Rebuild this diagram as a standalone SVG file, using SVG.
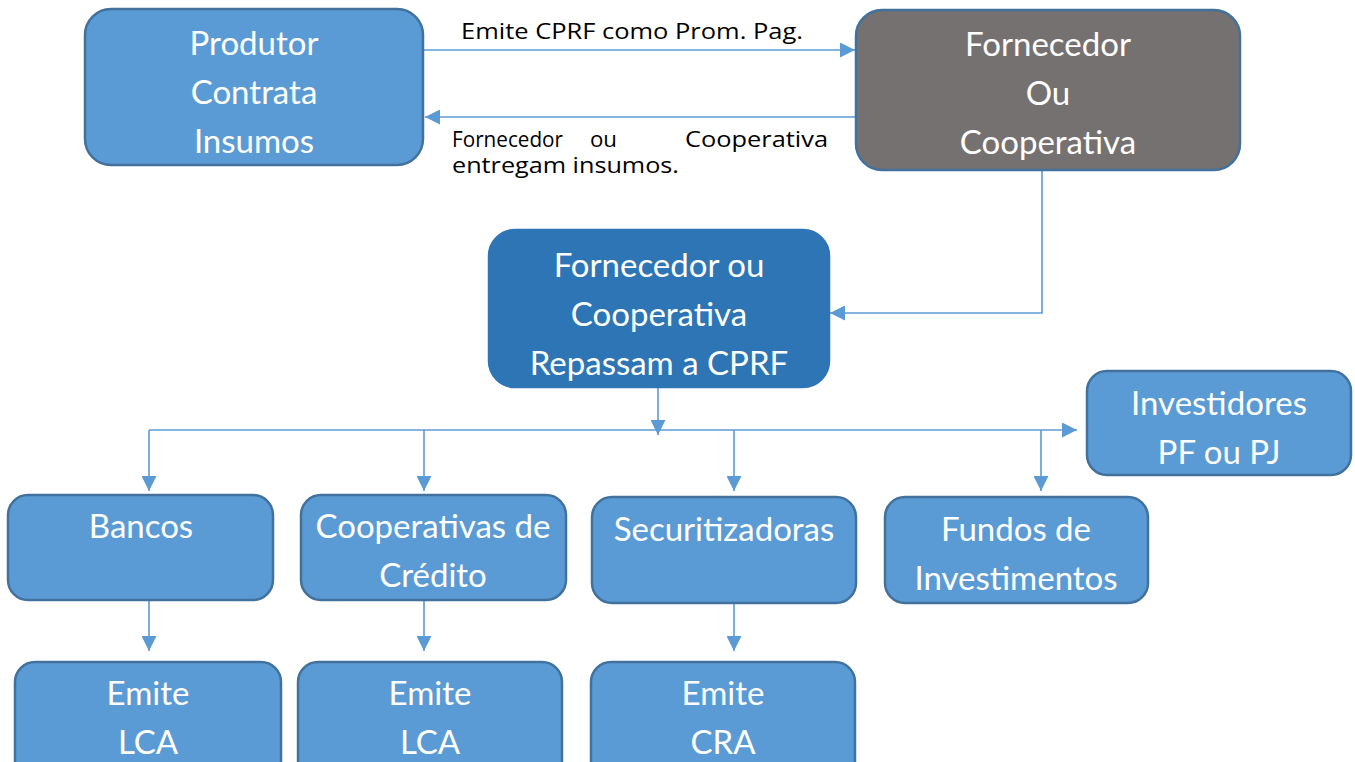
<svg xmlns="http://www.w3.org/2000/svg" width="1355" height="762" viewBox="0 0 1355 762">
<defs>
<marker id="ah" viewBox="0 0 10 10" refX="10" refY="5" markerWidth="15" markerHeight="15" markerUnits="userSpaceOnUse" orient="auto">
<path d="M0,0 L10,5 L0,10 z" fill="#5B9BD5"/>
</marker>
<style>
.n{fill:#5B9BD5;stroke:#41719C;stroke-width:2.5}
.g{fill:#767171;stroke:#41719C;stroke-width:2.5}
.d{fill:#2E75B6;stroke:#2E75B6;stroke-width:2.5}
.t{font-family:Lato,"Open Sans",sans-serif;font-size:33px;fill:#ffffff;text-anchor:middle}
.l{font-family:"Open Sans",Lato,sans-serif;font-size:21px;fill:#000000}
.c{fill:none;stroke:#5B9BD5;stroke-width:1.6}
</style>
</defs>
<rect width="1355" height="762" fill="#ffffff"/>
<g id="connectors">
<line class="c" x1="424" y1="50" x2="855" y2="50" marker-end="url(#ah)"/>
<line class="c" x1="856" y1="117" x2="425" y2="117" marker-end="url(#ah)"/>
<polyline class="c" points="1042,158 1042,313 830,313" marker-end="url(#ah)"/>
<line class="c" x1="658" y1="388" x2="658" y2="435" marker-end="url(#ah)"/>
<line class="c" x1="149" y1="430" x2="1077" y2="430" marker-end="url(#ah)"/>
<line class="c" x1="149" y1="430" x2="149" y2="491" marker-end="url(#ah)"/>
<line class="c" x1="424" y1="430" x2="424" y2="491" marker-end="url(#ah)"/>
<line class="c" x1="734" y1="430" x2="734" y2="491" marker-end="url(#ah)"/>
<line class="c" x1="1041" y1="430" x2="1041" y2="491" marker-end="url(#ah)"/>
<line class="c" x1="149" y1="600" x2="149" y2="651" marker-end="url(#ah)"/>
<line class="c" x1="424" y1="600" x2="424" y2="651" marker-end="url(#ah)"/>
<line class="c" x1="734" y1="603" x2="734" y2="651" marker-end="url(#ah)"/>
<text class="l" x="461" y="39" textLength="342" lengthAdjust="spacingAndGlyphs">Emite CPRF como Prom. Pag.</text>
<text class="l" x="452" y="147" textLength="111" lengthAdjust="spacingAndGlyphs">Fornecedor</text>
<text class="l" x="590" y="147" textLength="27" lengthAdjust="spacingAndGlyphs">ou</text>
<text class="l" x="685" y="147" textLength="143" lengthAdjust="spacingAndGlyphs">Cooperativa</text>
<text class="l" x="452" y="173" textLength="227" lengthAdjust="spacingAndGlyphs">entregam insumos.</text>
</g>
<g id="produtor">
<rect class="n" x="85" y="9" width="338" height="156" rx="26"/>
<text class="t" x="254" y="55">Produtor</text>
<text class="t" x="254" y="104">Contrata</text>
<text class="t" x="254" y="153">Insumos</text>
</g>
<g id="fornecedor">
<rect class="g" x="856" y="10" width="384" height="160" rx="26"/>
<text class="t" x="1048" y="56">Fornecedor</text>
<text class="t" x="1048" y="105">Ou</text>
<text class="t" x="1048" y="154">Cooperativa</text>
</g>
<g id="repassam">
<rect class="d" x="489" y="230" width="340" height="157" rx="26"/>
<text class="t" x="659" y="277">Fornecedor ou</text>
<text class="t" x="659" y="326">Cooperativa</text>
<text class="t" x="659" y="375">Repassam a CPRF</text>
</g>
<g id="investidores">
<rect class="n" x="1087" y="371" width="264" height="104" rx="20"/>
<text class="t" x="1219" y="415">Investidores</text>
<text class="t" x="1219" y="464">PF ou PJ</text>
</g>
<g id="bancos">
<rect class="n" x="8" y="495" width="265" height="105" rx="20"/>
<text class="t" x="141" y="538">Bancos</text>
</g>
<g id="cooperativas">
<rect class="n" x="301" y="495" width="265" height="105" rx="20"/>
<text class="t" x="433" y="538">Cooperativas de</text>
<text class="t" x="433" y="587">Crédito</text>
</g>
<g id="securitizadoras">
<rect class="n" x="592" y="497" width="264" height="106" rx="20"/>
<text class="t" x="724" y="541">Securitizadoras</text>
</g>
<g id="fundos">
<rect class="n" x="885" y="497" width="263" height="106" rx="20"/>
<text class="t" x="1016" y="541">Fundos de</text>
<text class="t" x="1016" y="590">Investimentos</text>
</g>
<g id="emite-lca-1">
<rect class="n" x="15" y="662" width="266" height="120" rx="20"/>
<text class="t" x="148" y="705">Emite</text>
<text class="t" x="148" y="754">LCA</text>
</g>
<g id="emite-lca-2">
<rect class="n" x="298" y="662" width="264" height="120" rx="20"/>
<text class="t" x="430" y="705">Emite</text>
<text class="t" x="430" y="754">LCA</text>
</g>
<g id="emite-cra">
<rect class="n" x="591" y="662" width="264" height="120" rx="20"/>
<text class="t" x="723" y="705">Emite</text>
<text class="t" x="723" y="754">CRA</text>
</g>
</svg>
